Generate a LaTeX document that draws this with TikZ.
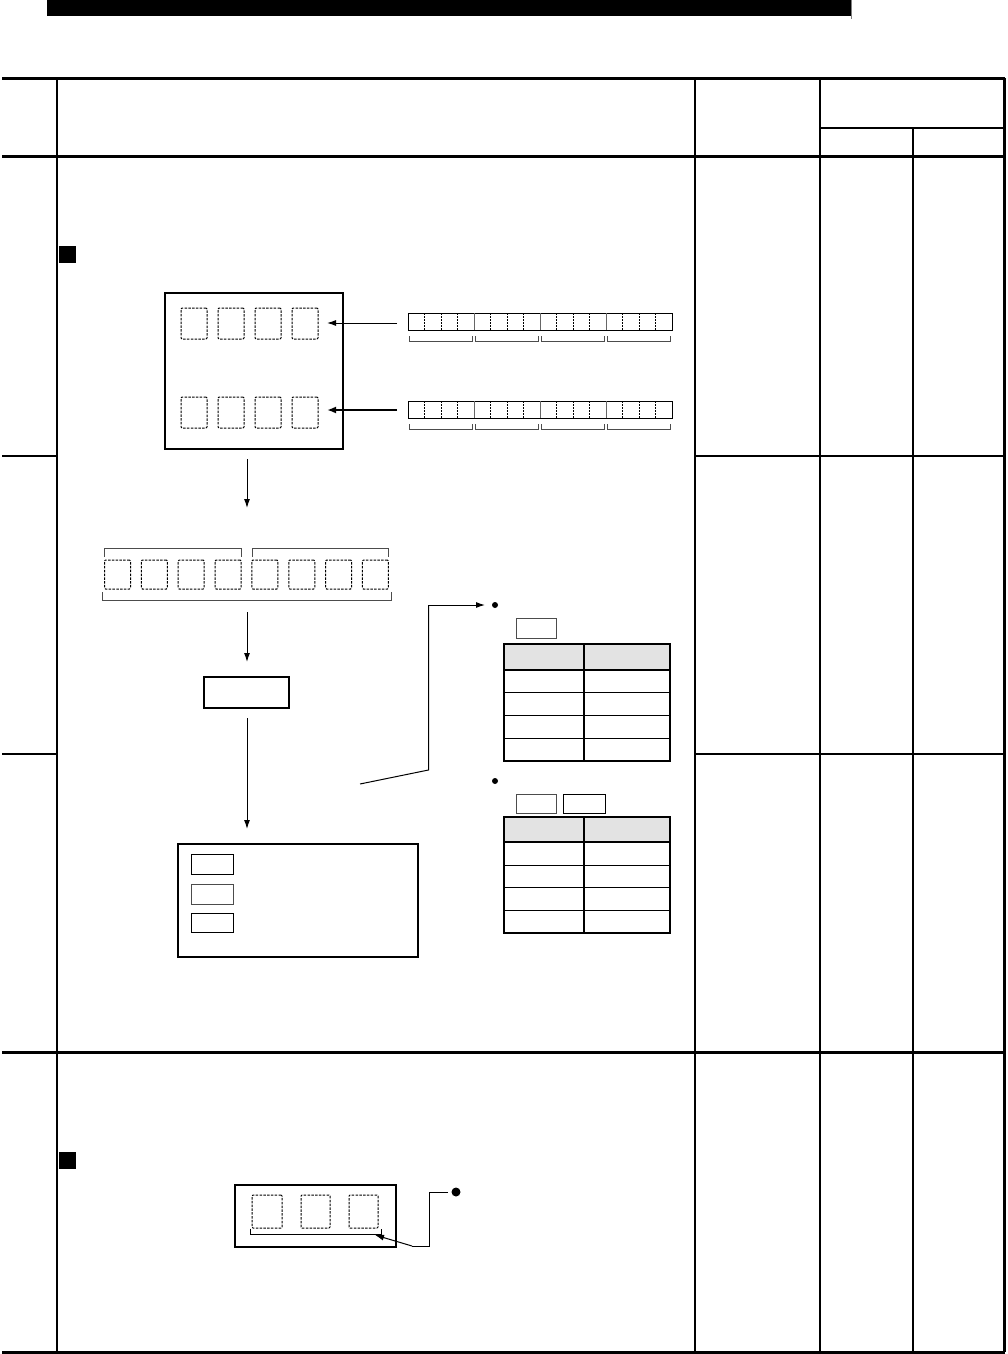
\documentclass[tikz,border=0pt]{standalone}
\usetikzlibrary{arrows.meta}
\begin{document}
\begin{tikzpicture}[x=1pt,y=-1pt,
  box/.style={draw,inner sep=0,outer sep=0,line width=2pt},
  sbox/.style={draw,inner sep=0,outer sep=0,line width=0.9pt},
  gbox/.style={draw=black!70,inner sep=0,outer sep=0,line width=1pt},
  dsq/.style={draw,dash pattern=on 2.5pt off 1.3pt,inner sep=0,outer sep=0,line width=1pt,rounded corners=1pt,minimum width=26pt,minimum height=31pt},
  conn/.style={line width=1pt,-{Latex[length=9pt,width=6pt]}},
  brk/.style={line width=0.7pt,draw=black!70},
  tline/.style={line width=3pt},
  mline/.style={line width=2pt},
  nline/.style={line width=1.3pt},
  dotn/.style={circle,fill,inner sep=0,outer sep=0,minimum size=6pt}]
\useasboundingbox (0,0) rectangle (1007,1354);
\fill[white] (0,0) rectangle (1007,1354);
% header bar
\fill (47,0) rectangle (851,16);
\draw[black!50,line width=0.6pt] (851,0)--(851,19);
% table frame
\draw[tline] (2,78)--(1005,78);
\draw[tline] (2,156)--(1005,156);
\draw[tline] (2,1052)--(1005,1052);
\draw[tline] (2,1352)--(1005,1352);
\draw[mline] (820,128)--(1005,128);
\draw[mline] (57,78)--(57,1352);
\draw[nline] (695,78)--(695,1352);
\draw[nline] (820,78)--(820,1352);
\draw[mline] (913,128)--(913,1352);
\draw[tline] (1004,78)--(1004,1352);
\draw[mline] (2,456)--(57,456);
\draw[mline] (695,456)--(1004,456);
\draw[nline] (2,754)--(57,754);
\draw[nline] (695,754)--(1004,754);
% black square markers
\fill (59,246) rectangle (76,263);
\fill (59,1152) rectangle (76,1169);

% ---- first diagram ----
\node[box,minimum width=178pt,minimum height=156pt] (mem) at (254,371) {};
\foreach \i/\x in {1/194,2/231,3/268,4/305}{
  \node[dsq] (a\i) at (\x,323.5) {};
  \node[dsq] (b\i) at (\x,412.5) {};
}
% registers
\foreach \y/\n in {313/ra,401/rb}{
  \node[sbox,minimum width=264pt,minimum height=17pt,anchor=north west] (\n) at (408,\y) {};
  \foreach \k in {1,...,15}{
    \pgfmathsetmacro{\xx}{408+16.5*\k}
    \pgfmathtruncatemacro{\m}{mod(\k,4)}
    \ifnum\m=0
      \draw[black!60,line width=0.9pt] (\xx,\y)--(\xx,\y+17);
    \else
      \draw[dash pattern=on 1.5pt off 1.5pt,line width=0.7pt] (\xx,\y)--(\xx,\y+17);
    \fi
  }
  \foreach \k in {0,...,3}{
    \draw[brk] (408+66*\k+1.5,\y+23)--(408+66*\k+1.5,\y+28)--(408+66*\k+64.5,\y+28)--(408+66*\k+64.5,\y+23);
  }
}
\coordinate (ra-in) at (397,323);
\coordinate (rb-in) at (397,410);
\draw[conn] (ra-in) -- ([xshift=9pt]a4.east |- ra-in);
\draw[line width=2pt,-{Latex[length=9pt,width=7pt]}] (rb-in) -- ([xshift=9pt]b4.east |- rb-in);

% arrow down to the 8 squares
\coordinate (d1s) at (247,459);
\coordinate (d1e) at (247,508);
\draw[conn] (d1s) -- (d1e);
\foreach \k in {0,...,7}{
  \node[dsq,minimum height=29pt] (c\k) at ({117.5+36.85*\k},574.5) {};
}
\draw[brk] (104.5,557)--(104.5,548)--(241,548)--(241,557);
\draw[brk] (252.5,557)--(252.5,548)--(388.5,548)--(388.5,557);
\draw[brk] (102,592)--(102,600.5)--(391,600.5)--(391,592);

\coordinate (d2s) at (247,612);
\draw[conn] (d2s) -- (247,662);
\node[sbox,line width=1.6pt,minimum width=85pt,minimum height=31pt] (res) at (246.5,692.5) {};
\node[box,minimum width=240pt,minimum height=113pt] (disp) at (298,900.5) {};
\coordinate (d3s) at (247,718);
\draw[conn] (d3s) -- ([yshift=15pt]d3s |- disp.north);
\node[sbox,minimum width=42pt,minimum height=20pt] (s1) at (212,864) {};
\node[gbox,minimum width=42pt,minimum height=20pt] (s2) at (212,894) {};
\node[sbox,minimum width=42pt,minimum height=19pt] (s3) at (212,922.5) {};

% elbow connector to the tables
\coordinate (e0) at (360,784);
\coordinate (e1) at (428.5,770);
\coordinate (e2) at (428.5,605);
\node[dotn] (dot1) at (495,605) {};
\draw[line width=1pt] (e0)--(e1)--(e2);
\draw[conn] (e2) -- ([xshift=-7pt]dot1.west);
\node[gbox,minimum width=40pt,minimum height=20pt] (k1) at (536,628) {};

% table 1
\fill[black!11] (504,644) rectangle (670,670);
\draw[line width=0.9pt] (504,692)--(670,692) (504,715)--(670,715) (504,738)--(670,738);
\draw[line width=1.6pt] (504,670)--(670,670);
\draw[line width=1.4pt] (584,644)--(584,761);
\node[box,line width=1.6pt,minimum width=166pt,minimum height=117pt,anchor=north west] (tab1) at (504,644) {};

\node[dotn] (dot2) at (495,781) {};
\node[gbox,minimum width=40pt,minimum height=19pt] (k2) at (536,803.5) {};
\node[sbox,minimum width=42pt,minimum height=19pt] (k3) at (584,803.5) {};

% table 2
\fill[black!11] (504,817) rectangle (670,842);
\draw[line width=0.9pt] (504,865)--(670,865) (504,887.5)--(670,887.5) (504,910.5)--(670,910.5);
\draw[line width=1.6pt] (504,842)--(670,842);
\draw[line width=1.4pt] (584,817)--(584,933);
\node[box,line width=1.6pt,minimum width=166pt,minimum height=116pt,anchor=north west] (tab2) at (504,817) {};

% ---- second diagram ----
\node[box,minimum width=161pt,minimum height=62pt] (dev) at (315.5,1216) {};
\node[dsq,minimum width=30pt,minimum height=33pt] (f1) at (267,1211.5) {};
\node[dsq,minimum width=29pt,minimum height=33pt] (f2) at (315.5,1211.5) {};
\node[dsq,minimum width=29pt,minimum height=33pt] (f3) at (363.5,1211.5) {};
\draw[line width=0.9pt] (250,1228.5)--(250,1234)--(381,1234)--(381,1228.5);
\node[dotn,minimum size=9pt] (dot3) at (456,1192) {};
\coordinate (g1) at (448,1192);
\coordinate (g2) at (429,1192);
\coordinate (g3) at (429,1246);
\coordinate (g4) at (412,1246);
\coordinate (g5) at (375,1235);
\draw[line width=1pt] (g1)--(g2)--(g3)--(g4);
\draw[conn] (g4)--(g5);
\end{tikzpicture}
\end{document}
